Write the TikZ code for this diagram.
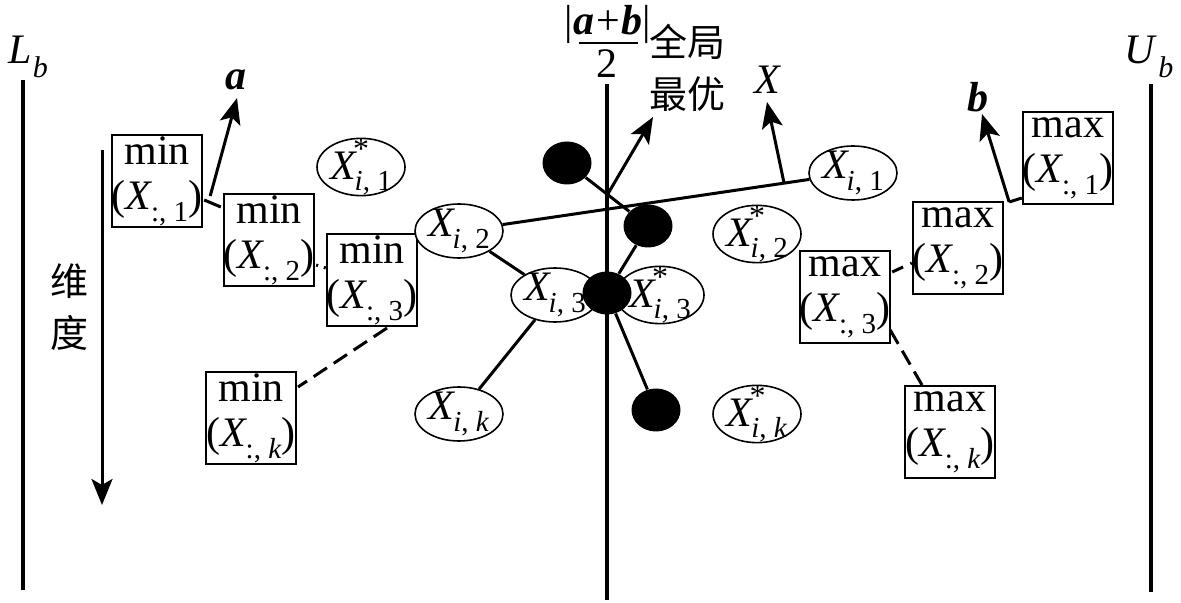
\documentclass[tikz,border=0pt]{standalone}
\usepackage{fontspec}
\setmainfont{Liberation Serif}
\newfontfamily\cjk{Noto Sans CJK SC}
\usetikzlibrary{shapes.geometric,arrows.meta,calc}
\newcommand{\sbx}[1]{\raisebox{-0.28em}{\fontsize{14.5}{14.5}\selectfont #1}}
\newcommand{\XI}[1]{\textit{X}\kern-0.06em\sbx{\textit{i}, #1}}
\newcommand{\XS}[1]{\textit{X}\rlap{\kern-0.1em\raisebox{0.46em}{\fontsize{16}{16}\selectfont *}}\kern-0.06em\sbx{\textit{i}, #1}}
\newcommand{\XC}[1]{(\textit{X}\kern-0.04em\sbx{:, #1})}
\tikzset{
  every node/.style={font=\fontsize{21}{22.5}\selectfont, inner sep=0pt},
  valbox/.style={draw, line width=1pt, minimum width=45pt, minimum height=46pt, align=center},
  sol/.style={ellipse, draw, line width=0.8pt, fill=white, minimum width=44pt, minimum height=27pt, inner sep=-4pt},
  dotn/.style={ellipse, fill=black, minimum width=24.5pt, minimum height=21.5pt},
  conn/.style={line width=1.5pt},
  dconn/.style={line width=1.5pt, dash pattern=on 8pt off 4pt},
  axisline/.style={line width=2pt},
  arr/.style={line width=1.5pt, -{Stealth[length=13pt,width=10.5pt,inset=3pt]}},
  cjkl/.style={font=\cjk\fontsize{19}{26}\selectfont, align=center}
}
\begin{document}
\begin{tikzpicture}[x=0.5pt,y=-0.5pt]
\useasboundingbox (0,0) rectangle (1181,603);
% axis lines
\coordinate (Lt) at (23,80);   \coordinate (Lbot) at (23,590);
\coordinate (Ct) at (607,84);  \coordinate (Cbot) at (607,600);
\coordinate (Rt) at (1151,84); \coordinate (Rbot) at (1151,592);
\draw[axisline] (Lt) -- (Lbot);
\draw[axisline] (Ct) -- (Cbot);
\draw[axisline] (Rt) -- (Rbot);
% labels
\node (Lb) at (28,57) {\textit{L}\kern0.03em\raisebox{-0.35em}{\fontsize{15}{15}\selectfont\textit{b}}};
\node (Ub) at (1149,57) {\textit{U}\kern0.03em\raisebox{-0.35em}{\fontsize{15}{15}\selectfont\textit{b}}};
\node (fnum) at (608,24) {|\textbf{\textit{a}}\kern0.05em+\kern0.05em\textbf{\textit{b}}|};
\coordinate (rl) at (579,43); \coordinate (rr) at (638,43);
\draw[line width=1.2pt] (rl) -- (rr);
\node (fden) at (607,64) {2};
\node[cjkl] (gbest) at (687,68) {全局\\最优};
\node (Xlab) at (768,80) {\textit{X}};
\node (alab) at (236,80) {\textbf{\textit{a}}};
\node (blab) at (978,97) {\textbf{\textit{b}}};
\node[cjkl] (dim) at (69,307) {维\\度};
% dimension arrow
\coordinate (dimS) at (102,150);
\coordinate (dimE) at (102,505);
\draw[arr] (dimS) -- (dimE);
% min boxes
\node[valbox] (min1) at (157,181) {min\\\XC{1}};
\node[valbox] (min2) at (269,240) {min\\\XC{2}};
\node[valbox] (min3) at (372,280) {min\\\XC{3}};
\node[valbox] (mink) at (251,418) {min\\\XC{\textit{k}}};
% max boxes
\node[valbox] (max1) at (1068,158) {max\\\XC{1}};
\node[valbox] (max2) at (958,248) {max\\\XC{2}};
\node[valbox] (max3) at (845,297) {max\\\XC{3}};
\node[valbox] (maxk) at (950,432) {max\\\XC{\textit{k}}};
% ellipses
\node[sol] (xs1) at (361,167) {\XS{1}};
\node[sol] (xi1) at (853,173) {\XI{1}};
\node[sol] (xi2) at (459,231) {\XI{2}};
\node[sol] (xs2) at (757,234) {\XS{2}};
\node[sol] (xi3) at (555,295) {\XI{3}};
\node[sol] (xs3) at (660,295) {\XS{3}};
\node[sol] (xik) at (459,414) {\XI{\textit{k}}};
\node[sol] (xsk) at (757,414) {\XS{\textit{k}}};
% dots
\node[dotn] (d1) at (567,163) {};
\node[dotn] (d2) at (648,226) {};
\node[dotn] (d3) at (607,293) {};
\node[dotn] (d4) at (656,410) {};
% solid connectors
\draw[conn] (d1) -- (d2);
\draw[conn] (d2) -- (d3);
\draw[conn] (d3) -- (d4);
\draw[conn] (xi2) -- (xi3);
\draw[conn] (xi3) -- (xik);
\draw[conn] (xi2) -- (xi1);
% arrows
\coordinate (gS) at ($(d1)!0.5!(d2)$);
\coordinate (gE) at (653,117);
\draw[arr] (gS) -- (gE);
\coordinate (xS) at ($(xi2)!0.825!(xi1)$);
\coordinate (xE) at (767,102);
\draw[arr] (xS) -- (xE);
\coordinate (aS) at ($(min1.east)+(7,15)$);
\coordinate (aE) at (237,98);
\draw[arr] (aS) -- (aE);
\coordinate (bS) at ($(max2.north east)+(5,1)$);
\coordinate (bE) at (982,114);
\draw[arr] (bS) -- (bE);
\draw[conn] (bS) -- ($(max1.south west)+(0,-7)$);
% dashed connectors
\draw[dconn, dash pattern=on 10pt off 4pt] ($(min1.east)+(1,19)$) -- ($(min2.west)+(-2,-33)$);
\draw[dconn, dash pattern=on 1pt off 3pt] ($(min2.east)+(1,25)$) -- ($(min3.west)+(0,-12)$);
\draw[dconn] ($(min3.south)+(15,1)$) -- ($(mink.east)+(1,-31)$);
\draw[dconn, dash pattern=on 6pt off 4pt] ($(max3.east)+(1,-25)$) -- ($(max2.west)+(0,15)$);
\draw[dconn] ($(max3.east)+(-1,33)$) -- ($(maxk.north)+(-28,0)$);
\end{tikzpicture}
\end{document}
